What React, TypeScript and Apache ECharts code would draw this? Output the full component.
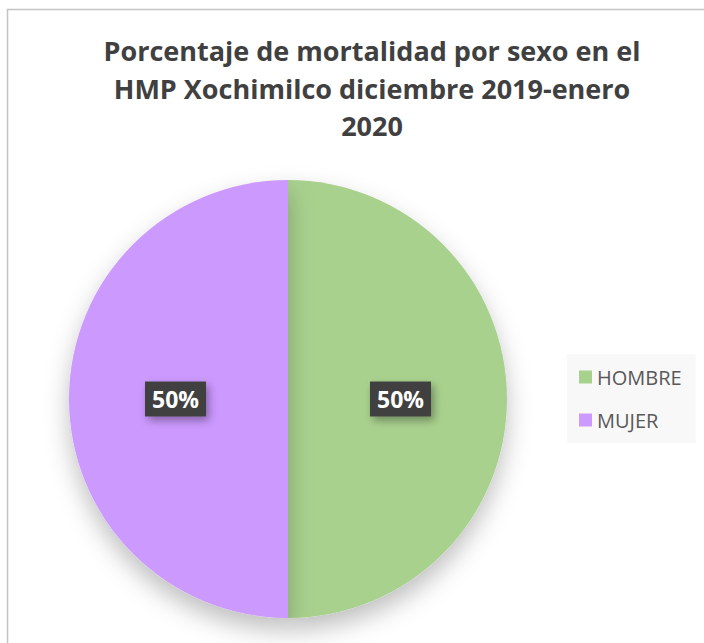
import React, { useEffect, useRef } from "react";
import * as echarts from "echarts";

const categories = ["HOMBRE", "MUJER"];
const values = [50, 50];
const colors = ["#a9d18e", "#cc99ff"];
const titleText = "Porcentaje de mortalidad por sexo en el\nHMP Xochimilco diciembre 2019-enero\n2020";

export default function App() {
  const ref = useRef<HTMLDivElement>(null);
  useEffect(() => {
    const chart = echarts.init(ref.current!, undefined, { renderer: "svg" });
    chart.setOption({
      animation: false,
      backgroundColor: "#ffffff",
      title: {
        text: titleText,
        left: 367,
        top: 27,
        textAlign: "center",
        textStyle: {
          fontFamily: "Open Sans",
          fontWeight: "bold",
          fontSize: 27,
          lineHeight: 37.5,
          color: "#404040",
        },
      },
      graphic: [
        {
          type: "rect",
          shape: { x: 7.5, y: 9.5, width: 720, height: 660 },
          style: { fill: "none", stroke: "#c4c4c4", lineWidth: 1.5 },
          z: 0,
        },
      ],
      legend: {
        orient: "vertical",
        left: 567,
        top: 354,
        padding: [13, 14, 13, 12],
        backgroundColor: "#f8f8f8",
        itemWidth: 13,
        itemHeight: 13,
        itemGap: 23,
        itemTextGap: 7,
        icon: "rect",
        textStyle: { fontFamily: "Open Sans", fontSize: 20, color: "#595959" },
        data: categories,
      },
      series: [
        {
          type: "pie",
          center: [288, 399],
          radius: [0, 219],
          startAngle: 90,
          clockwise: true,
          data: categories.map((c, i) => ({ name: c, value: values[i], itemStyle: { color: colors[i] } })),
          itemStyle: {
            shadowBlur: 25,
            shadowOffsetY: 12,
            shadowColor: "rgba(0,0,0,0.25)",
          },
          label: {
            show: true,
            position: "inside",
            formatter: (p: any) => Math.round(p.percent) + "%",
            fontFamily: "Open Sans",
            fontWeight: "bold",
            fontSize: 23,
            color: "#ffffff",
            backgroundColor: "#404040",
            padding: [6, 7, 6, 7],
            shadowBlur: 8,
            shadowOffsetX: 3,
            shadowOffsetY: 4,
            shadowColor: "rgba(0,0,0,0.35)",
          },
          labelLine: { show: false },
          emphasis: { disabled: true },
        },
      ],
    });
    return () => chart.dispose();
  }, []);
  return <div ref={ref} style={{ position: "fixed", left: 0, top: 0, width: 704, height: 643 }} />;
}
